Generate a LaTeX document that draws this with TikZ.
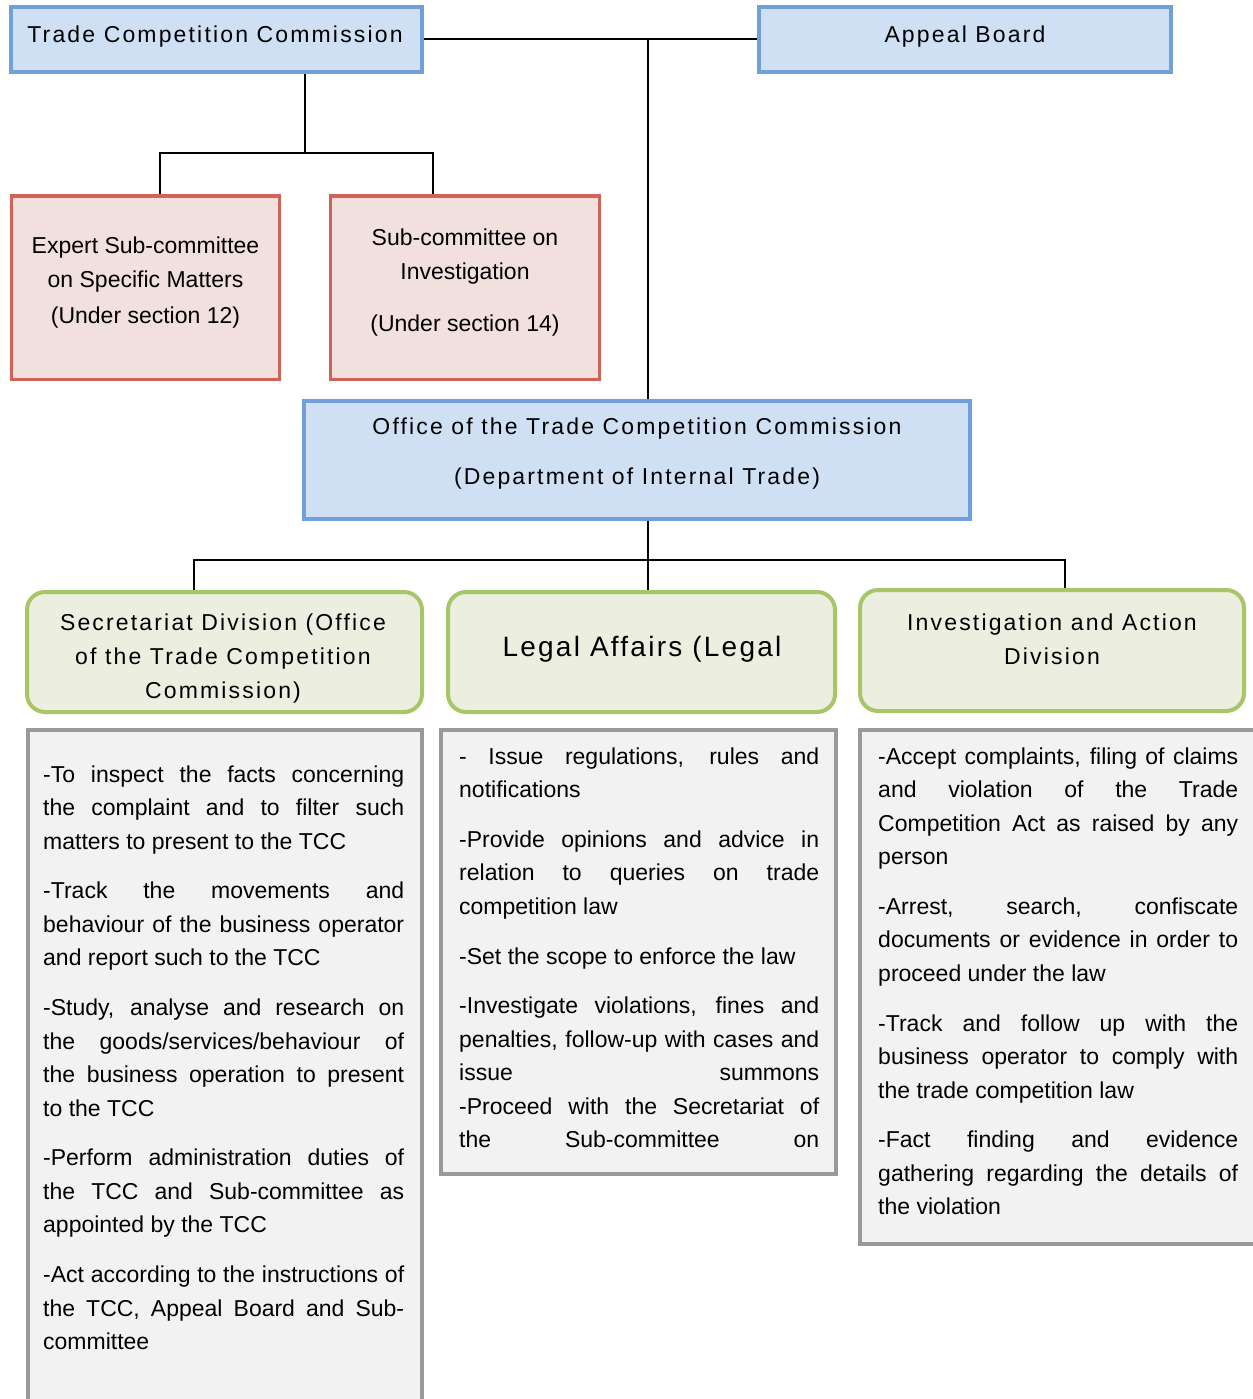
\documentclass[tikz,border=0pt]{standalone}
\usepackage{fontspec}
\setmainfont{Liberation Sans}
\newfontfamily\spacedfont[LetterSpace=9.4]{Liberation Sans}
\newfontfamily\spacedlegal[LetterSpace=8.0]{Liberation Sans}
\usetikzlibrary{backgrounds}
\pgfdeclarelayer{back0}
\pgfsetlayers{back0,background,main}
\definecolor{blueF}{RGB}{207,224,245}
\definecolor{blueD}{RGB}{111,160,220}
\definecolor{redF}{RGB}{242,224,222}
\definecolor{redD}{RGB}{207,99,88}
\definecolor{greenF}{RGB}{236,239,224}
\definecolor{greenD}{RGB}{166,198,104}
\definecolor{grayF}{RGB}{242,242,242}
\definecolor{grayD}{RGB}{153,153,153}
\newcommand\jline[1]{\hbox to\hsize{#1}}
\newcommand\lline[1]{\hbox{#1}}
\newcommand\pgap{\vskip16.3pt}
\tikzset{
  boxbase/.style={draw, inner sep=0pt, outer sep=0pt},
  bluebox/.style={boxbase, fill=blueF, draw=blueD, line width=3.5pt},
  redbox/.style={boxbase, fill=redF, draw=redD, line width=3pt},
  greenbox/.style={boxbase, fill=greenF, draw=greenD, line width=4pt, rounded corners=18pt},
  graybox/.style={boxbase, fill=grayF, draw=grayD, line width=4pt},
  conn/.style={draw=black, line width=2pt},
  headtxt/.style={font=\spacedfont\fontsize{23}{34}\selectfont, align=center, inner sep=0pt},
  plaintxt/.style={font=\fontsize{23}{34}\selectfont, align=center, inner sep=0pt},
  listtxt/.style={font=\fontsize{23}{33.5}\selectfont, inner sep=0pt, anchor=base west}
}
\begin{document}
\begin{tikzpicture}[x=1pt,y=-1pt]
\useasboundingbox (0,0) rectangle (1252,1399);
\begin{pgfonlayer}{back0}
\fill[white] (0,0) rectangle (1252,1399);
\end{pgfonlayer}

% top row
\node[bluebox, minimum width=411pt, minimum height=65pt] (tcc) at (216.5,39.5) {};
\node[bluebox, minimum width=412pt, minimum height=65pt] (appeal) at (965,39.5) {};
\node[headtxt] (tcct) at (215,36.5) {Trade Competition Commission};
\node[headtxt] (appealt) at (965,36.5) {Appeal Board};

% sub-committees
\node[redbox, minimum width=268pt, minimum height=183pt] (expert) at (145,287.5) {};
\node[redbox, minimum width=269pt, minimum height=183pt] (sub) at (464.5,287.5) {};
\node[plaintxt] (expertt) at (145.5,282.5) {Expert Sub-committee\\on Specific Matters\\[2pt](Under section 12)};
\node[plaintxt] (subt) at (465,282.5) {Sub-committee on\\Investigation\\[18pt](Under section 14)};

% office
\node[bluebox, minimum width=666pt, minimum height=118pt] (office) at (637,460) {};
\node[headtxt] (officet) at (637,453.5) {Office of the Trade Competition Commission\\[16pt](Department of Internal Trade)};

% divisions
\node[greenbox, minimum width=395pt, minimum height=120pt] (secg) at (224.5,652) {};
\node[greenbox, minimum width=387pt, minimum height=120pt] (legg) at (641.5,652) {};
\node[greenbox, minimum width=384pt, minimum height=121pt] (invg) at (1052,650.5) {};
\node[headtxt] (secgt) at (223,659) {Secretariat Division (Office\\of the Trade Competition\\Commission)};
\node[headtxt, font=\spacedlegal\fontsize{28}{34}\selectfont] (leggt) at (642,649.5) {Legal Affairs (Legal};
\node[headtxt] (invgt) at (1052,639.5) {Investigation and Action\\Division};

% duty lists
\node[graybox, minimum width=394pt, minimum height=680pt] (secl) at (225,1070) {};
\node[graybox, minimum width=395pt, minimum height=444pt] (legl) at (638.5,952) {};
\node[graybox, minimum width=400pt, minimum height=514pt] (invl) at (1060,987) {};

\node[listtxt] (seclt) at (43,782) {\vtop{\hsize=361pt
\jline{-To inspect the facts concerning}
\jline{the complaint and to filter such}
\lline{matters to present to the TCC}
\pgap
\jline{-Track the movements and}
\jline{behaviour of the business operator}
\lline{and report such to the TCC}
\pgap
\jline{-Study, analyse and research on}
\jline{the goods/services/behaviour of}
\jline{the business operation to present}
\lline{to the TCC}
\pgap
\jline{-Perform administration duties of}
\jline{the TCC and Sub-committee as}
\lline{appointed by the TCC}
\pgap
\jline{-Act according to the instructions of}
\jline{the TCC, Appeal Board and Sub-}
\lline{committee}}};

\node[listtxt] (leglt) at (459,764) {\vtop{\hsize=360pt
\jline{- Issue regulations, rules and}
\lline{notifications}
\pgap
\jline{-Provide opinions and advice in}
\jline{relation to queries on trade}
\lline{competition law}
\pgap
\lline{-Set the scope to enforce the law}
\pgap
\jline{-Investigate violations, fines and}
\jline{penalties, follow-up with cases and}
\jline{issue summons}
\jline{-Proceed with the Secretariat of}
\jline{the Sub-committee on}}};

\node[listtxt] (invlt) at (878,764) {\vtop{\hsize=360pt
\jline{-Accept complaints, filing of claims}
\jline{and violation of the Trade}
\jline{Competition Act as raised by any}
\lline{person}
\pgap
\jline{-Arrest, search, confiscate}
\jline{documents or evidence in order to}
\lline{proceed under the law}
\pgap
\jline{-Track and follow up with the}
\jline{business operator to comply with}
\lline{the trade competition law}
\pgap
\jline{-Fact finding and evidence}
\jline{gathering regarding the details of}
\lline{the violation}}};

% connectors
\coordinate (spine) at (648,39.5);
\coordinate (tccdrop) at (305,153);
\coordinate (bx1) at (160,153);
\coordinate (bx2) at (433,153);
\coordinate (od) at (648,560);
\coordinate (g1) at (194,560);
\coordinate (g3) at (1065,560);
\begin{pgfonlayer}{background}
\draw[conn] (tcc.east) -- (appeal.west);
\draw[conn] (spine) -- (spine |- office.north);
\draw[conn] (tccdrop |- tcc.south) -- (tccdrop);
\draw[conn] (bx1 |- expert.north) -- (bx1) -- (bx2) -- (bx2 |- sub.north);
\draw[conn] (od |- office.south) -- (od);
\draw[conn] (g1 |- secg.north) -- (g1) -- (g3) -- (g3 |- invg.north);
\draw[conn] (od) -- (od |- legg.north);
\end{pgfonlayer}
\end{tikzpicture}
\end{document}
